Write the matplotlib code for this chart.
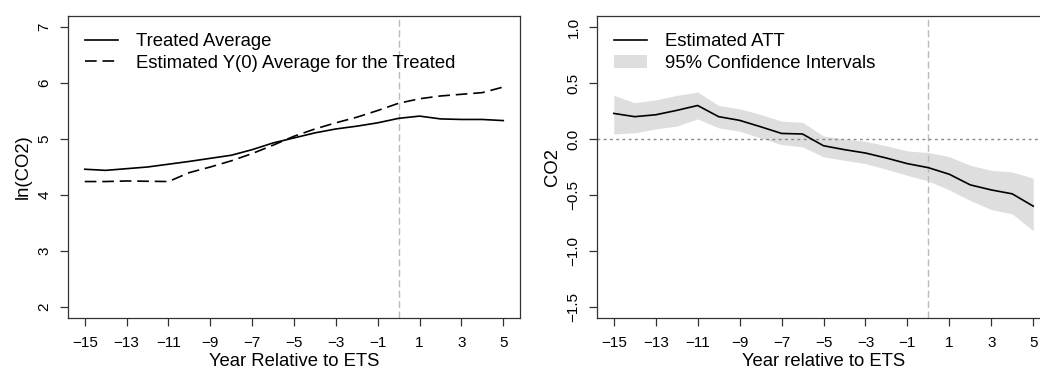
import numpy as np
import matplotlib.pyplot as plt
from matplotlib.patches import Patch
from matplotlib.lines import Line2D

plt.rcParams['font.family'] = ['Liberation Sans', 'DejaVu Sans']

# данные
years = np.arange(-15, 6)
treated = [4.46, 4.44, 4.47, 4.50, 4.55, 4.60, 4.655, 4.71, 4.81, 4.93, 5.02,
           5.11, 5.18, 5.23, 5.29, 5.37, 5.41, 5.36, 5.35, 5.35, 5.33]
y0_est = [4.24, 4.24, 4.25, 4.245, 4.24, 4.40, 4.50, 4.61, 4.74, 4.89, 5.05,
          5.18, 5.29, 5.39, 5.51, 5.64, 5.72, 5.77, 5.80, 5.83, 5.93]
att = [0.229, 0.20, 0.217, 0.256, 0.30, 0.20, 0.167, 0.11, 0.05, 0.045, -0.06,
       -0.095, -0.125, -0.17, -0.22, -0.256, -0.315, -0.41, -0.455, -0.49, -0.60]
ci_upper = [0.39, 0.325, 0.35, 0.39, 0.42, 0.30, 0.27, 0.22, 0.16, 0.15, 0.027,
            0.0, -0.02, -0.06, -0.107, -0.12, -0.158, -0.235, -0.28, -0.295, -0.35]
ci_lower = [0.045, 0.056, 0.09, 0.116, 0.18, 0.10, 0.07, 0.01, -0.05, -0.07, -0.16,
            -0.19, -0.22, -0.27, -0.325, -0.375, -0.455, -0.55, -0.63, -0.67, -0.82]
xticks = np.arange(-15, 6, 2)

DASH = (0, (7, 3.5))
FILL = '#dedede'

fig = plt.figure(figsize=(10.4, 3.71), dpi=100)
ax1 = fig.add_axes([68/1040, 53/371, 452/1040, 302/371])
ax2 = fig.add_axes([597/1040, 53/371, 453/1040, 302/371])

for ax in (ax1, ax2):
    ax.set_xlim(-15.8, 5.8)
    ax.set_xticks(xticks)
    ax.axvline(0, color='#bbbbbb', linestyle=(0, (5, 2.5)), linewidth=1)
    ax.tick_params(axis='both', direction='out', length=5.8, width=0.9,
                   labelsize=11, color='#333333')
    ax.tick_params(axis='x', pad=7.5)
    ax.tick_params(axis='y', labelrotation=90, pad=6)
    for lab in ax.get_yticklabels():
        lab.set_va('center')
    for s in ax.spines.values():
        s.set_linewidth(0.9)
        s.set_color('#333333')

# 1. левая панель
ax1.plot(years, treated, color='black', linewidth=1.2)
ax1.plot(years, y0_est, color='black', linewidth=1.2, linestyle=DASH)
ax1.set_ylim(1.8, 7.2)
ax1.set_yticks([2, 3, 4, 5, 6, 7])
ax1.set_xlabel('Year Relative to ETS', fontsize=13.3, va='center')
ax1.set_ylabel('ln(CO2)', fontsize=13.3, va='center')
ax1.xaxis.set_label_coords(0.5, -44/302)
ax1.yaxis.set_label_coords(-45/452, 0.5)
h1 = [Line2D([], [], color='black', lw=1.2),
      Line2D([], [], color='black', lw=1.2, linestyle=DASH)]
ax1.legend(h1, ['Treated Average', 'Estimated Y(0) Average for the Treated'],
           loc='upper left', bbox_to_anchor=(17/452, 0.943), frameon=False,
           borderpad=0, borderaxespad=0, fontsize=13.3, handlelength=1.8,
           handletextpad=0.95, labelspacing=0.25)

# 2. правая панель
ax2.fill_between(years, ci_lower, ci_upper, color=FILL, linewidth=0)
ax2.axhline(0, color='#888888', linestyle=(0, (2, 2.5)), linewidth=1)
ax2.plot(years, att, color='black', linewidth=1.2)
ax2.set_ylim(-1.6, 1.1)
ax2.set_yticks([-1.5, -1.0, -0.5, 0.0, 0.5, 1.0])
ax2.set_yticklabels(['\u22121.5', '\u22121.0', '\u22120.5', '0.0', '0.5', '1.0'])
ax2.set_xlabel('Year relative to ETS', fontsize=13.3, va='center')
ax2.set_ylabel('CO2', fontsize=13.3, va='center')
ax2.xaxis.set_label_coords(0.5, -44/302)
ax2.yaxis.set_label_coords(-44/453, 0.5)
h2 = [Line2D([], [], color='black', lw=1.2), Patch(color=FILL, lw=0)]
ax2.legend(h2, ['Estimated ATT', '95% Confidence Intervals'],
           loc='upper left', bbox_to_anchor=(17/453, 0.943), frameon=False,
           borderpad=0, borderaxespad=0, fontsize=13.3, handlelength=1.8,
           handletextpad=0.95, labelspacing=0.25)

fig.savefig('out.png', dpi=100)
